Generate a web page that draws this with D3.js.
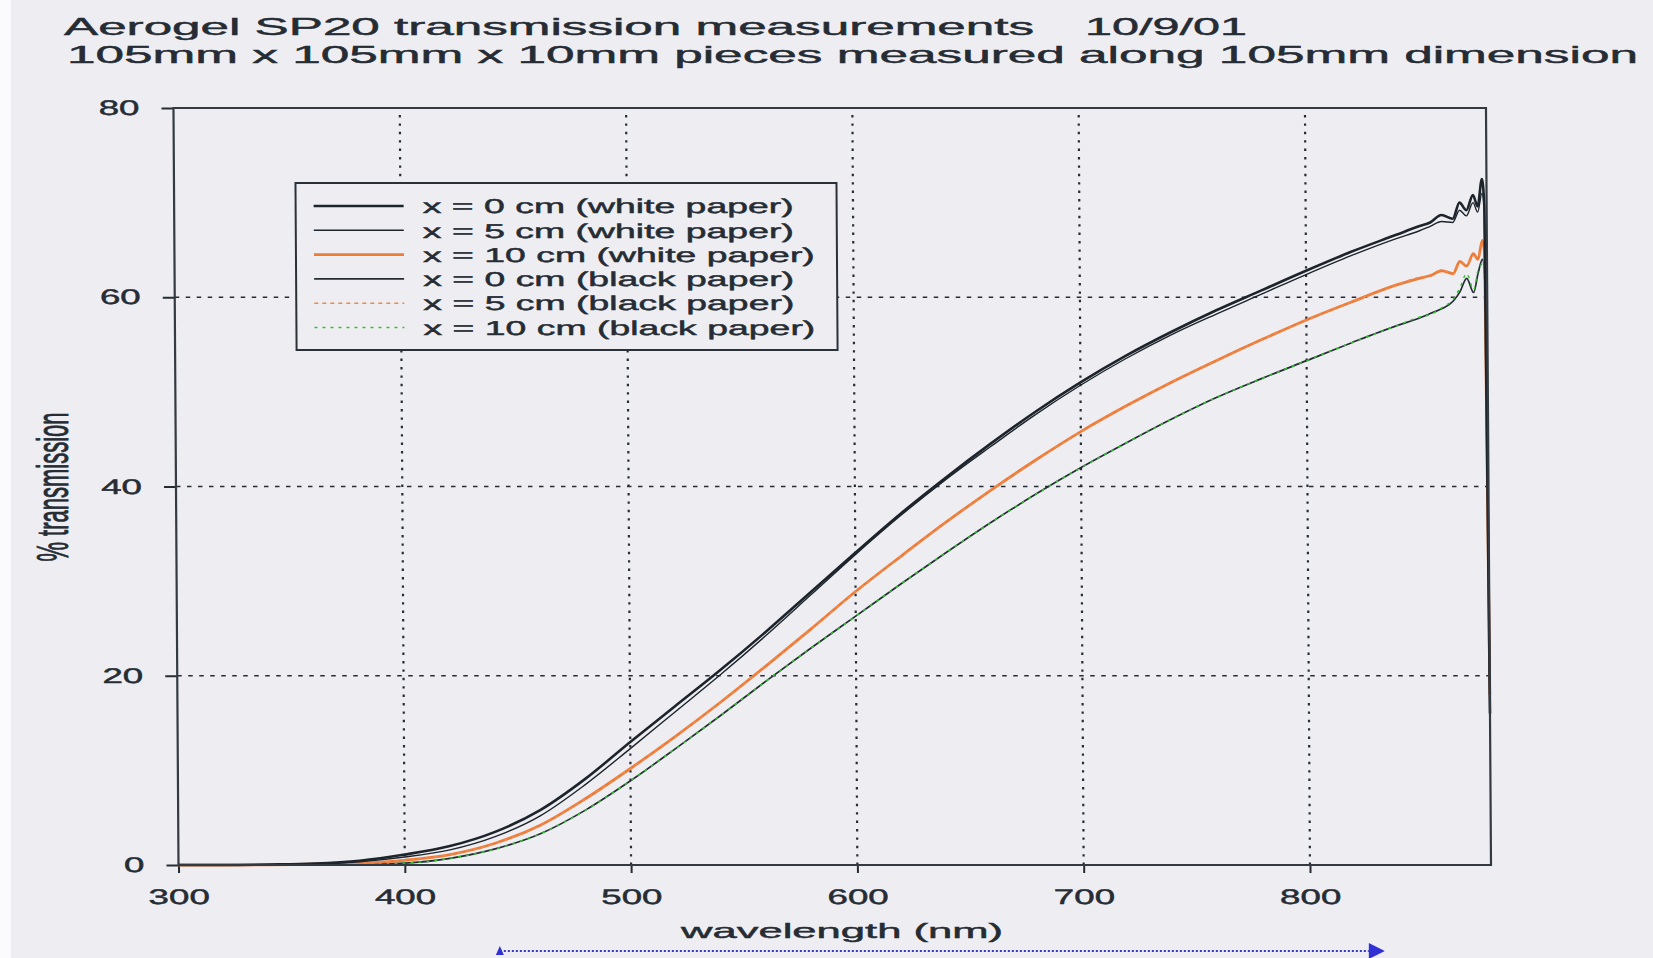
<!DOCTYPE html>
<html>
<head>
<meta charset="utf-8">
<script src="https://cdn.jsdelivr.net/npm/d3@7"></script>
<style>
html, body { margin: 0; padding: 0; background: #fff; }
svg { display: block; font-family: "Liberation Sans", Arial, sans-serif; }
svg text { stroke: #262c34; stroke-width: 0.45; paint-order: stroke; }
</style>
</head>
<body>
<script>
// values (nm, % transmission)
const wavelength = [300, 320, 340, 360, 380, 400, 420, 440, 460, 480, 500, 520, 540, 560, 580, 600, 620, 640, 660, 680, 700, 720, 740, 760, 780, 800, 820, 840, 850, 855, 860, 865, 868, 871, 874, 876, 878, 879, 880]
const white0 = [0, 0, 0.05, 0.15, 0.45, 1.1, 2.0, 3.5, 5.8, 9.1, 13.0, 16.8, 20.6, 24.6, 28.8, 33.0, 37.1, 40.9, 44.5, 47.9, 51.0, 53.8, 56.3, 58.6, 60.7, 62.8, 64.8, 66.6, 67.5, 67.9, 68.7, 68.3, 70.0, 69.2, 70.8, 69.6, 72.5, 69.5, 16]
const white5 = [0, 0, 0.03, 0.1, 0.35, 0.85, 1.6, 3.0, 5.2, 8.5, 12.3, 16.2, 20.1, 24.2, 28.5, 32.8, 36.9, 40.7, 44.2, 47.6, 50.7, 53.5, 56.0, 58.2, 60.3, 62.4, 64.4, 66.2, 67.0, 67.5, 68.0, 67.9, 69.2, 68.6, 70.0, 69.0, 71.0, 69.0, 16]
const white10 = [0, 0, 0.02, 0.08, 0.2, 0.5, 1.1, 2.3, 4.2, 7.0, 10.2, 13.6, 17.2, 21.0, 24.9, 28.9, 32.6, 36.2, 39.6, 42.8, 45.8, 48.5, 51.0, 53.3, 55.5, 57.6, 59.5, 61.3, 62.0, 62.3, 62.8, 62.5, 63.8, 63.3, 64.6, 64.0, 66.0, 64.5, 18]
const black0 = [0, 0, 0.01, 0.05, 0.1, 0.2, 0.7, 1.7, 3.3, 5.8, 8.9, 12.3, 15.8, 19.4, 22.9, 26.3, 29.7, 33.0, 36.2, 39.2, 42.0, 44.6, 47.1, 49.4, 51.4, 53.3, 55.2, 57.0, 57.8, 58.3, 58.8, 59.6, 60.6, 62.0, 60.5, 62.5, 64.0, 62.0, 15]
const black5 = [0, 0, 0.02, 0.08, 0.2, 0.5, 1.1, 2.3, 4.2, 7.0, 10.2, 13.6, 17.2, 21.0, 24.9, 28.9, 32.6, 36.2, 39.6, 42.8, 45.8, 48.5, 51.0, 53.3, 55.5, 57.6, 59.5, 61.3, 62.1, 62.2, 62.9, 62.4, 63.6, 63.5, 64.4, 64.2, 65.6, 64.8, 18]
const black10 = [0, 0, 0.01, 0.05, 0.1, 0.2, 0.7, 1.7, 3.3, 5.8, 8.9, 12.3, 15.8, 19.4, 22.9, 26.3, 29.7, 33.0, 36.2, 39.2, 42.0, 44.6, 47.1, 49.4, 51.4, 53.3, 55.2, 57.0, 57.9, 58.2, 58.9, 59.8, 61.0, 62.5, 60.8, 62.8, 63.5, 61.5, 15]

const xTicks = [300, 400, 500, 600, 700, 800]
const yTicks = [0, 20, 40, 60, 80]
const xGrid = [400, 500, 600, 700, 800]
const yGrid = [20, 40, 60]

const W = 1653, H = 958
const X0 = 178.5, X1 = 1491, Y0 = 865, Y1 = 108
const BG = '#eeeef2'
const INK = '#262c34'

// the scan is stretched sideways, so every text gets widened
function stretch(sel, sx) {
	sel.each(function () {
		const w = this.getComputedTextLength()
		d3.select(this).attr('textLength', w * sx).attr('lengthAdjust', 'spacingAndGlyphs')
	})
}

const svg = d3.select('body').append('svg')
	.attr('width', W)
	.attr('height', H)

svg.append('rect').attr('width', W).attr('height', H).attr('fill', BG)
svg.append('rect').attr('width', 11).attr('height', H).attr('fill', '#fbfbfd')

// titles
svg.append('text').attr('x', 64).attr('y', 35).attr('font-size', 24).attr('fill', INK)
	.attr('textLength', 970).attr('lengthAdjust', 'spacingAndGlyphs')
	.text('Aerogel SP20 transmission measurements')
svg.append('text').attr('x', 1085).attr('y', 35).attr('font-size', 24).attr('fill', INK)
	.attr('textLength', 162).attr('lengthAdjust', 'spacingAndGlyphs')
	.text('10/9/01')
svg.append('text').attr('x', 67).attr('y', 63).attr('font-size', 24).attr('fill', INK)
	.attr('textLength', 1571).attr('lengthAdjust', 'spacingAndGlyphs')
	.text('105mm x 105mm x 10mm pieces measured along 105mm dimension')

const x = d3.scaleLinear().domain([300, 880]).range([X0, X1])
const y = d3.scaleLinear().domain([0, 80]).range([Y0, Y1])

// slight shear of the scanned page
const plot = svg.append('g')
	.attr('transform', `translate(0,${Y0}) skewX(0.38) translate(0,${-Y0})`)

// grid
plot.append('g').selectAll('line').data(xGrid).join('line')
	.attr('x1', d => x(d)).attr('x2', d => x(d))
	.attr('y1', y(0)).attr('y2', y(80))
	.attr('stroke', INK).attr('stroke-width', 2.2)
	.attr('stroke-dasharray', '2.4,6')

plot.append('g').selectAll('line').data(yGrid).join('line')
	.attr('x1', x(300)).attr('x2', x(880))
	.attr('y1', d => y(d)).attr('y2', d => y(d))
	.attr('stroke', INK).attr('stroke-width', 1.6)
	.attr('stroke-dasharray', '4.5,6.5')

// axes
const xAxis = plot.append('g')
	.attr('transform', `translate(0,${Y0})`)
	.call(d3.axisBottom(x).tickValues(xTicks).tickSize(8).tickPadding(16))
const yAxis = plot.append('g')
	.attr('transform', `translate(${X0},0)`)
	.call(d3.axisLeft(y).tickValues(yTicks).tickSize(12).tickPadding(22))

for (const ax of [xAxis, yAxis]) {
	ax.select('.domain').remove()
	ax.selectAll('line').attr('stroke', INK).attr('stroke-width', 2)
	ax.selectAll('text').attr('font-size', 21).attr('fill', INK)
		.attr('font-family', '"Liberation Sans", Arial, sans-serif')
	stretch(ax.selectAll('text'), 1.75)
}

// series
const series = [
	{ name: 'x = 0 cm (white paper)', values: white0, color: '#1d242c', width: 2.6, dash: null },
	{ name: 'x = 5 cm (white paper)', values: white5, color: '#1d242c', width: 1.4, dash: null },
	{ name: 'x = 10 cm (white paper)', values: white10, color: '#ee7b38', width: 2.8, dash: null },
	{ name: 'x = 0 cm (black paper)', values: black0, color: '#252c33', width: 1.7, dash: null },
	{ name: 'x = 5 cm (black paper)', values: black5, color: '#f08a4a', width: 1.4, dash: '4,4' },
	{ name: 'x = 10 cm (black paper)', values: black10, color: '#2fc22f', width: 1.5, dash: '3,5' }
]
const drawOrder = [3, 5, 2, 4, 1, 0]

const line = d3.line()
	.x((d, i) => x(wavelength[i]))
	.y(d => y(d))
	.curve(d3.curveMonotoneX)

plot.append('g').selectAll('path').data(drawOrder.map(i => series[i])).join('path')
	.attr('d', d => line(d.values))
	.attr('fill', 'none')
	.attr('stroke', d => d.color)
	.attr('stroke-width', d => d.width)
	.attr('stroke-dasharray', d => d.dash)
	.attr('stroke-linejoin', 'round')

// frame
plot.append('rect')
	.attr('x', X0).attr('y', Y1)
	.attr('width', X1 - X0).attr('height', Y0 - Y1)
	.attr('fill', 'none').attr('stroke', '#333a42').attr('stroke-width', 2.2)

// legend
const legend = plot.append('g').attr('transform', 'translate(300,183)')
legend.append('rect')
	.attr('width', 541).attr('height', 167)
	.attr('fill', BG).attr('stroke', '#2b3139').attr('stroke-width', 2)

const item = legend.selectAll('g.item').data(series).join('g')
	.attr('class', 'item')
	.attr('transform', (d, i) => `translate(0,${23 + i * 24.3})`)
item.append('line')
	.attr('x1', 18).attr('x2', 108)
	.attr('stroke', d => d.color)
	.attr('stroke-width', d => d.width)
	.attr('stroke-dasharray', d => d.dash)
item.append('text')
	.attr('x', 127).attr('dy', '0.36em')
	.attr('font-size', 20).attr('fill', INK)
	.text(d => d.name)
stretch(item.selectAll('text'), 1.87)

// axis titles
svg.append('text')
	.attr('x', 842).attr('y', 938)
	.attr('text-anchor', 'middle')
	.attr('font-size', 21).attr('fill', INK)
	.attr('textLength', 322).attr('lengthAdjust', 'spacingAndGlyphs')
	.text('wavelength (nm)')

svg.append('text')
	.attr('transform', 'translate(68,487) scale(2,1) rotate(-90)')
	.attr('text-anchor', 'middle')
	.attr('font-size', 22).attr('fill', INK)
	.text('% transmission')

// blue dotted marker along the bottom edge
const arrowY = 951
svg.append('line')
	.attr('x1', x(442)).attr('x2', x(826))
	.attr('y1', arrowY).attr('y2', arrowY)
	.attr('stroke', '#3434d0').attr('stroke-width', 2)
	.attr('stroke-dasharray', '2,2')
svg.append('path')
	.attr('d', `M${x(826)},${arrowY - 8}L${x(826) + 16},${arrowY}L${x(826)},${arrowY + 8}Z`)
	.attr('fill', '#3030d4')
svg.append('path')
	.attr('d', `M${x(442) - 4},${arrowY + 4}L${x(442)},${arrowY - 5}L${x(442) + 4},${arrowY + 4}Z`)
	.attr('fill', '#3030d4')
</script>
</body>
</html>
